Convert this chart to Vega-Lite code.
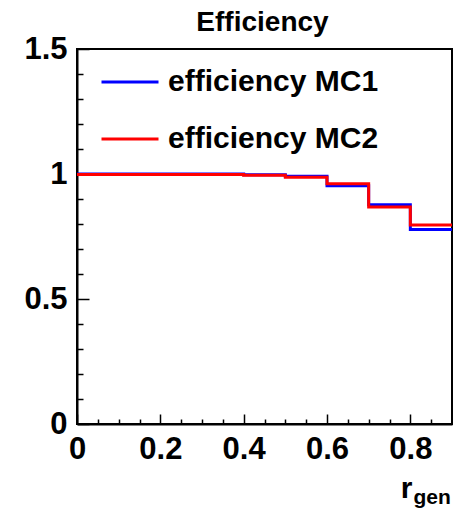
{
  "$schema": "https://vega.github.io/schema/vega-lite/v6.json",
  "width": 375,
  "height": 375,
  "autosize": {"type": "none"},
  "padding": {"left": 77, "top": 49, "right": 11, "bottom": 86},
  "background": "white",
  "title": {
    "text": "Efficiency",
    "font": "Liberation Sans",
    "fontWeight": "bold",
    "fontSize": 28,
    "anchor": "middle",
    "frame": "group",
    "offset": 10,
    "dy": 14,
    "dx": -2,
    "color": "black"
  },
  "config": {
    "view": {"stroke": "black", "strokeWidth": 2},
    "axis": {
      "labelFont": "Liberation Sans",
      "labelFontWeight": "bold",
      "labelFontSize": 31,
      "labelColor": "black",
      "titleFont": "Liberation Sans",
      "titleFontWeight": "bold",
      "titleColor": "black",
      "domainColor": "black",
      "domainWidth": 2,
      "tickColor": "black",
      "tickWidth": 1.5,
      "grid": false,
      "labelFlush": false,
      "labelOverlap": false,
      "labelBound": false
    }
  },
  "data": {
    "values": [
      {"series": "efficiency MC1", "x": 0.0, "eff": 1.0},
      {"series": "efficiency MC1", "x": 0.1, "eff": 1.0},
      {"series": "efficiency MC1", "x": 0.2, "eff": 1.0},
      {"series": "efficiency MC1", "x": 0.3, "eff": 1.0},
      {"series": "efficiency MC1", "x": 0.4, "eff": 0.997},
      {"series": "efficiency MC1", "x": 0.5, "eff": 0.991},
      {"series": "efficiency MC1", "x": 0.6, "eff": 0.953},
      {"series": "efficiency MC1", "x": 0.7, "eff": 0.877},
      {"series": "efficiency MC1", "x": 0.8, "eff": 0.778},
      {"series": "efficiency MC1", "x": 0.9, "eff": 0.778},
      {"series": "efficiency MC2", "x": 0.0, "eff": 0.998},
      {"series": "efficiency MC2", "x": 0.1, "eff": 0.998},
      {"series": "efficiency MC2", "x": 0.2, "eff": 0.998},
      {"series": "efficiency MC2", "x": 0.3, "eff": 0.998},
      {"series": "efficiency MC2", "x": 0.4, "eff": 0.995},
      {"series": "efficiency MC2", "x": 0.5, "eff": 0.987},
      {"series": "efficiency MC2", "x": 0.6, "eff": 0.961},
      {"series": "efficiency MC2", "x": 0.7, "eff": 0.868},
      {"series": "efficiency MC2", "x": 0.8, "eff": 0.796},
      {"series": "efficiency MC2", "x": 0.9, "eff": 0.796}
    ]
  },
  "layer": [
    {
      "mark": {"type": "line", "interpolate": "step-after", "strokeWidth": 3, "clip": true},
      "encoding": {
        "x": {
          "field": "x",
          "type": "quantitative",
          "scale": {"domain": [0, 0.9], "nice": false, "zero": false},
          "axis": {
            "orient": "bottom",
            "values": [0, 0.05, 0.1, 0.15, 0.2, 0.25, 0.3, 0.35, 0.4, 0.45, 0.5, 0.55, 0.6, 0.65, 0.7, 0.75, 0.8, 0.85],
            "labelExpr": "abs(datum.value*5 - round(datum.value*5)) < 0.001 ? format(datum.value, '.1~f') : ''",
            "tickSize": {"condition": {"test": "abs(datum.value*5 - round(datum.value*5)) < 0.001", "value": -10}, "value": -5},
            "labelPadding": 20,
            "title": "r",
            "titleFontSize": 30,
            "titleAlign": "right",
            "titleAnchor": "end",
            "titleBaseline": "alphabetic",
            "titleX": 335,
            "titleY": 73
          }
        },
        "y": {
          "field": "eff",
          "type": "quantitative",
          "scale": {"domain": [0, 1.5], "nice": false, "zero": false},
          "axis": {
            "values": [0, 0.1, 0.2, 0.3, 0.4, 0.5, 0.6, 0.7, 0.8, 0.9, 1.0, 1.1, 1.2, 1.3, 1.4, 1.5],
            "labelExpr": "abs(datum.value*2 - round(datum.value*2)) < 0.001 ? format(datum.value, '.1~f') : ''",
            "tickSize": {"condition": {"test": "abs(datum.value*2 - round(datum.value*2)) < 0.001", "value": -12}, "value": -6},
            "labelPadding": 22,
            "title": null
          }
        },
        "color": {
          "field": "series",
          "type": "nominal",
          "scale": {"domain": ["efficiency MC1", "efficiency MC2"], "range": ["#0000ff", "#ff0000"]},
          "legend": {
            "orient": "none",
            "legendX": 23,
            "legendY": 3,
            "title": null,
            "padding": 0,
            "symbolType": "stroke",
            "symbolSize": 3249,
            "symbolStrokeWidth": 3,
            "labelFont": "Liberation Sans",
            "labelFontWeight": "bold",
            "labelFontSize": 30,
            "labelColor": "black",
            "labelLimit": 400,
            "labelOffset": 8,
            "rowPadding": 12
          }
        }
      }
    },
    {
      "mark": {"type": "line", "opacity": 0},
      "encoding": {
        "x": {
          "field": "x",
          "type": "quantitative",
          "axis": {
            "orient": "bottom",
            "domain": false,
            "ticks": false,
            "labels": false,
            "title": "gen",
            "titleFontSize": 21,
            "titleAlign": "left",
            "titleAnchor": "start",
            "titleBaseline": "alphabetic",
            "titleX": 336,
            "titleY": 79
          }
        }
      }
    }
  ],
  "resolve": {"axis": {"x": "independent"}}
}
